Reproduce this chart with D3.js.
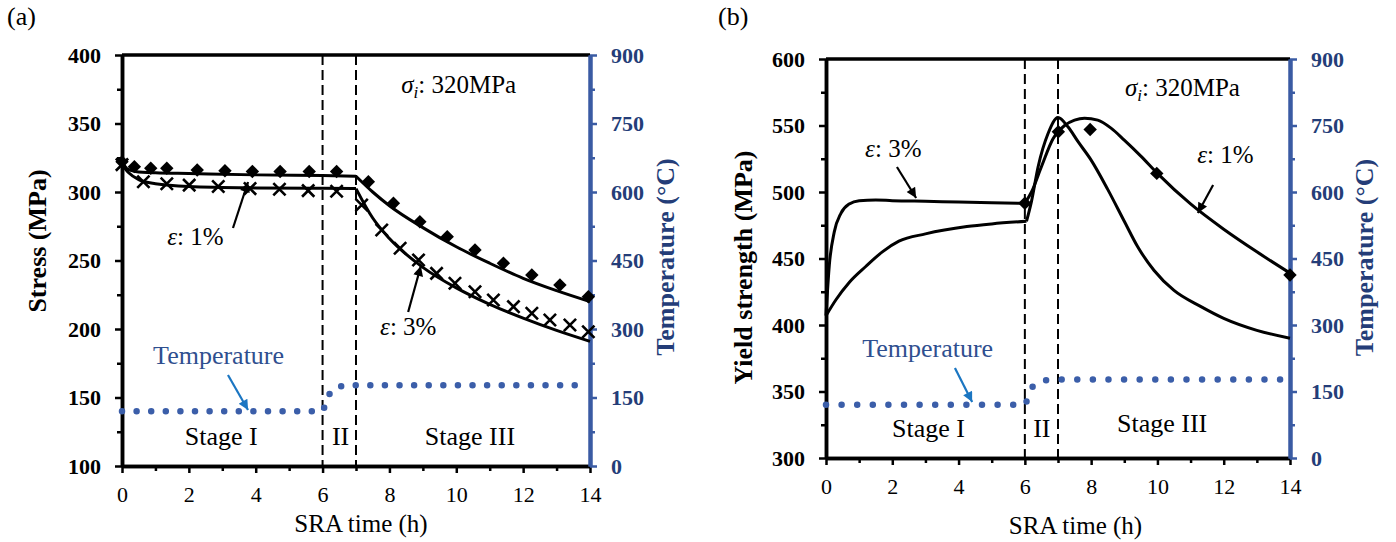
<!DOCTYPE html>
<html>
<head>
<meta charset="utf-8">
<script src="https://cdn.jsdelivr.net/npm/d3@7"></script>
<style>
  body { margin: 0; background: #fff; }
  text { font-family: "Liberation Serif", "Times New Roman", serif; }
</style>
</head>
<body>
<svg id="chart" width="1396" height="542"></svg>
<script>
///////////////    Data    ////////////////

// shared axis ticks
const timeTicks = [0, 2, 4, 6, 8, 10, 12, 14];
const timeMinor = [1, 3, 5, 7, 9, 11, 13];
const tempTicks = [0, 150, 300, 450, 600, 750, 900];
const tempMinor = [75, 225, 375, 525, 675, 825];
const stageBounds = [6, 7];

// temperature history (same for both panels)
const tempTime = [0, 6, 6.04, 6.17, 6.37, 6.72, 7.1, 13.8];
const tempValue = [120, 120, 126, 152, 170, 176, 177, 177];

// (a) stress relaxation
const stressTicks = [100, 150, 200, 250, 300, 350, 400];
const stressMinor = [125, 175, 225, 275, 325, 375];

// fitted curves
const fit1Time = [0, 0.15, 0.4, 1, 2, 4, 6, 7, 7.5, 8, 9, 10, 11, 12, 13, 14];
const fit1Stress = [322, 317, 315, 314, 313.5, 312.5, 312, 311.5, 300, 290, 274, 260, 248, 237, 228, 220];
const fit3Time = [0, 0.2, 0.5, 1, 2, 4, 6, 7, 7.5, 8, 9, 10, 11, 12, 13, 14];
const fit3Stress = [320, 314, 309, 306, 304, 303, 302.7, 302.5, 281, 266, 245, 230, 218, 208, 199, 191];

// measured points
const exp1Time = [0, 0.37, 0.86, 1.34, 2.25, 3.08, 3.9, 4.73, 5.6, 6.42, 7.37, 8.12, 8.91, 9.73, 10.56, 11.41, 12.26, 13.1, 13.95];
const exp1Stress = [322, 318.5, 317.3, 317.3, 316, 315.5, 315, 315, 315, 315, 307.5, 291.8, 278.3, 267.4, 257.7, 248, 239.4, 232.1, 223.6];
const exp3Time = [0, 0.64, 1.34, 2.01, 2.88, 3.83, 4.71, 5.57, 6.42, 7.17, 7.77, 8.32, 8.87, 9.41, 9.96, 10.56, 11.11, 11.71, 12.26, 12.8, 13.4, 13.95];
const exp3Stress = [320, 307.5, 306, 305, 304, 302.5, 302, 301, 300.5, 290.5, 272.3, 258.9, 250.4, 240.6, 233.4, 227.2, 221.2, 216.3, 211.5, 206.6, 202.9, 198];

// (b) yield strength
const yieldTicks = [300, 350, 400, 450, 500, 550, 600];
const yieldMinor = [325, 375, 425, 475, 525, 575];

const ysUpperTime = [0, 0.1, 0.25, 0.45, 0.7, 1, 1.5, 2, 3, 4, 5, 6, 6.2, 6.5, 6.85, 7.2, 7.5, 7.8, 8.2, 8.6, 9, 9.5, 10, 11, 12, 13, 14];
const ysUpper = [407, 445, 470, 484, 491, 493.5, 494, 493.5, 493, 492.5, 492, 491.5, 500, 519, 540, 550, 554, 555.5, 554, 548, 539, 527, 514, 491, 472, 455, 439];
const ysLowerTime = [0, 0.3, 0.7, 1.2, 1.7, 2.2, 3, 4.25, 5, 6.05, 6.2, 6.4, 6.7, 7, 7.3, 7.6, 8, 8.5, 9, 9.4, 9.9, 10.5, 11.3, 12, 13, 14];
const ysLower = [407, 419, 432, 444, 455, 463, 468.5, 474, 476, 478, 493, 519, 544, 556, 549, 538, 524, 502, 478, 459, 441, 426, 414, 405, 396, 390];

const ysExpTime = [6, 7.01, 7.97, 9.98, 14];
const ysExp = [491.5, 545.3, 547, 514, 437.6];

///////////////    Drawing    ////////////////

const svg = d3.select("#chart");
const navy = "#243d78";
const axisBlue = "#3a5ba3";
const dotBlue = "#3b5ea9";
const arrowBlue = "#1b76c2";

const defs = svg.append("defs");
function arrowMarker(id, color) {
  defs.append("marker")
    .attr("id", id)
    .attr("viewBox", "0 0 10 10")
    .attr("refX", 10)
    .attr("refY", 5)
    .attr("markerUnits", "userSpaceOnUse")
    .attr("markerWidth", 13)
    .attr("markerHeight", 10)
    .attr("orient", "auto")
    .append("path")
    .attr("d", "M0,0 L10,5 L0,10 z")
    .attr("fill", color);
}
arrowMarker("arrowBlack", "#000");
arrowMarker("arrowBlue", arrowBlue);

function styleAxis(sel, color, width) {
  sel.select(".domain").attr("stroke", color).attr("stroke-width", width);
  sel.selectAll(".tick line").attr("stroke", color).attr("stroke-width", 2.5);
}

function drawPanel(p) {
  const g = svg.append("g");
  const x = d3.scaleLinear().domain([0, 14]).range([p.left, p.right]);
  const y = d3.scaleLinear().domain(p.yDomain).range([p.bottom, p.top]);
  const yT = d3.scaleLinear().domain([0, 900]).range([p.bottom, p.top]);

  // stage boundaries
  g.selectAll(".stage")
    .data(stageBounds)
    .enter()
    .append("line")
    .attr("x1", (d) => x(d))
    .attr("x2", (d) => x(d))
    .attr("y1", p.top)
    .attr("y2", p.bottom)
    .attr("stroke", "#000")
    .attr("stroke-width", 2)
    .attr("stroke-dasharray", "10,5");

  // top frame
  g.append("line")
    .attr("x1", p.left).attr("x2", p.right)
    .attr("y1", p.top).attr("y2", p.top)
    .attr("stroke", "#000").attr("stroke-width", 3.5);

  // x axis
  const xMinor = g.append("g").attr("transform", `translate(0,${p.bottom})`)
    .call(d3.axisBottom(x).tickValues(timeMinor).tickSize(5).tickSizeOuter(0).tickFormat(""));
  styleAxis(xMinor, "#000", 3.5);
  const xAxis = g.append("g").attr("transform", `translate(0,${p.bottom})`)
    .call(d3.axisBottom(x).tickValues(timeTicks).tickSize(7).tickSizeOuter(0).tickPadding(13));
  styleAxis(xAxis, "#000", 3.5);
  xAxis.selectAll("text").attr("font-size", 22).attr("fill", "#000");

  // left axis
  const yMinor = g.append("g").attr("transform", `translate(${p.left},0)`)
    .call(d3.axisLeft(y).tickValues(p.yMinor).tickSize(5).tickSizeOuter(0).tickFormat(""));
  styleAxis(yMinor, "#000", 3.5);
  const yAxis = g.append("g").attr("transform", `translate(${p.left},0)`)
    .call(d3.axisLeft(y).tickValues(p.yTicks).tickSize(7).tickSizeOuter(0).tickPadding(14));
  styleAxis(yAxis, "#000", 3.5);
  yAxis.selectAll("text").attr("font-size", 22).attr("font-weight", "bold").attr("fill", "#000");

  // right temperature axis
  const tMinor = g.append("g").attr("transform", `translate(${p.right},0)`)
    .call(d3.axisRight(yT).tickValues(tempMinor).tickSize(5).tickSizeOuter(0).tickFormat(""));
  styleAxis(tMinor, axisBlue, 4);
  const tAxis = g.append("g").attr("transform", `translate(${p.right},0)`)
    .call(d3.axisRight(yT).tickValues(tempTicks).tickSize(7).tickSizeOuter(0).tickPadding(14));
  styleAxis(tAxis, axisBlue, 4);
  tAxis.selectAll("text").attr("font-size", 22).attr("font-weight", "bold").attr("fill", navy);

  // temperature dotted line
  const tempLine = d3.line()
    .x((d) => x(d[0]))
    .y((d) => yT(d[1]))
    .curve(d3.curveMonotoneX);
  g.append("path")
    .attr("d", tempLine(d3.zip(tempTime, tempValue)))
    .attr("fill", "none")
    .attr("stroke", dotBlue)
    .attr("stroke-width", 6.5)
    .attr("stroke-linecap", "round")
    .attr("stroke-dasharray", `0,${p.dotGap}`);

  // fitted curves, split where the slope breaks
  const line = d3.line()
    .x((d) => x(d[0]))
    .y((d) => y(d[1]))
    .curve(d3.curveMonotoneX);
  p.curves.forEach((c) => {
    const pts = d3.zip(c.time, c.value);
    let start = 0;
    c.breaks.concat([Infinity]).forEach((b) => {
      const seg = pts.filter((d) => d[0] >= start && d[0] <= b);
      g.append("path")
        .attr("d", line(seg))
        .attr("fill", "none")
        .attr("stroke", "#000")
        .attr("stroke-width", 3);
      start = b;
    });
  });

  // measured markers
  p.markers.forEach((m) => {
    const pts = d3.zip(m.time, m.value);
    if (m.type === "diamond") {
      g.selectAll(null)
        .data(pts)
        .enter()
        .append("path")
        .attr("d", d3.symbol(d3.symbolSquare, 90)())
        .attr("transform", (d) => `translate(${x(d[0])},${y(d[1])}) rotate(45)`)
        .attr("fill", "#000");
    } else {
      g.selectAll(null)
        .data(pts)
        .enter()
        .append("path")
        .attr("d", d3.symbol(d3.symbolTimes, 100)())
        .attr("transform", (d) => `translate(${x(d[0])},${y(d[1])})`)
        .attr("fill", "none")
        .attr("stroke", "#000")
        .attr("stroke-width", 2.6);
    }
  });

  // annotations
  const sigma = g.append("text")
    .attr("x", x(p.sigmaAt[0])).attr("y", y(p.sigmaAt[1]))
    .attr("font-size", 25).attr("fill", "#000");
  sigma.append("tspan").attr("font-style", "italic").text("σ");
  sigma.append("tspan").attr("font-style", "italic").attr("font-size", 17).attr("dy", 5).text("i");
  sigma.append("tspan").attr("dy", -5).text(": 320MPa");

  p.epsLabels.forEach((e) => {
    const t = g.append("text")
      .attr("x", x(e.at[0])).attr("y", y(e.at[1]))
      .attr("font-size", 25).attr("fill", "#000");
    t.append("tspan").attr("font-style", "italic").text("ε");
    t.append("tspan").text(": " + e.text);
    g.append("line")
      .attr("x1", x(e.from[0])).attr("y1", y(e.from[1]))
      .attr("x2", x(e.to[0])).attr("y2", y(e.to[1]))
      .attr("stroke", "#000").attr("stroke-width", 2.2)
      .attr("marker-end", "url(#arrowBlack)");
  });

  g.append("text")
    .attr("x", x(p.tempLabel.at[0])).attr("y", y(p.tempLabel.at[1]))
    .attr("font-size", 26).attr("fill", "#2f4f8f")
    .text("Temperature");
  g.append("line")
    .attr("x1", x(p.tempLabel.from[0])).attr("y1", y(p.tempLabel.from[1]))
    .attr("x2", x(p.tempLabel.to[0])).attr("y2", y(p.tempLabel.to[1]))
    .attr("stroke", arrowBlue).attr("stroke-width", 2.2)
    .attr("marker-end", "url(#arrowBlue)");

  p.stages.forEach((s) => {
    g.append("text")
      .attr("x", x(s.at[0])).attr("y", y(s.at[1]))
      .attr("font-size", 26).attr("fill", "#000")
      .text(s.text);
  });

  // axis titles
  g.append("text")
    .attr("transform", `translate(${p.yTitleX},${p.yTitleY}) rotate(-90)`)
    .attr("text-anchor", "middle")
    .attr("font-size", 26).attr("font-weight", "bold").attr("fill", "#000")
    .text(p.yTitle);
  g.append("text")
    .attr("transform", `translate(${p.tTitleX},${p.tTitleY}) rotate(-90)`)
    .attr("text-anchor", "middle")
    .attr("font-size", 26).attr("font-weight", "bold").attr("fill", navy)
    .text("Temperature (°C)");
  g.append("text")
    .attr("x", p.xTitleX).attr("y", p.xTitleY)
    .attr("text-anchor", "middle")
    .attr("font-size", 25).attr("fill", "#000")
    .text("SRA time (h)");

  g.append("text")
    .attr("x", p.tagX).attr("y", 25)
    .attr("font-size", 26).attr("fill", "#000")
    .text(p.tag);
}

drawPanel({
  tag: "(a)", tagX: 7,
  left: 122, right: 590, top: 55, bottom: 466,
  yDomain: [100, 400], yTicks: stressTicks, yMinor: stressMinor,
  dotGap: 14.6,
  curves: [
    { time: fit1Time, value: fit1Stress, breaks: [7] },
    { time: fit3Time, value: fit3Stress, breaks: [7] },
  ],
  markers: [
    { type: "diamond", time: exp1Time, value: exp1Stress },
    { type: "cross", time: exp3Time, value: exp3Stress },
  ],
  sigmaAt: [8.35, 372.3],
  epsLabels: [
    { text: "1%", at: [1.35, 261.3], from: [3.32, 273.7], to: [3.77, 307.3] },
    { text: "3%", at: [7.72, 195.6], from: [8.56, 212.4], to: [8.94, 246] },
  ],
  tempLabel: { at: [0.93, 174.5], from: [3.17, 166.4], to: [3.77, 140.9] },
  stages: [
    { text: "Stage I", at: [1.88, 115.3] },
    { text: "II", at: [6.28, 115.3] },
    { text: "Stage III", at: [9.06, 115.3] },
  ],
  yTitle: "Stress (MPa)", yTitleX: 46, yTitleY: 241,
  tTitleX: 674, tTitleY: 257,
  xTitleX: 361, xTitleY: 532,
});

drawPanel({
  tag: "(b)", tagX: 718,
  left: 826, right: 1290, top: 59, bottom: 458,
  yDomain: [300, 600], yTicks: yieldTicks, yMinor: yieldMinor,
  dotGap: 15.6,
  curves: [
    { time: ysUpperTime, value: ysUpper, breaks: [6] },
    { time: ysLowerTime, value: ysLower, breaks: [6.05] },
  ],
  markers: [
    { type: "diamond", time: ysExpTime, value: ysExp },
  ],
  sigmaAt: [9.02, 572.2],
  epsLabels: [
    { text: "3%", at: [1.18, 526.3], from: [2.14, 518.8], to: [2.72, 495.5] },
    { text: "1%", at: [11.2, 521.8], from: [11.68, 505.3], to: [11.22, 484.2] },
  ],
  tempLabel: { at: [1.09, 375.9], from: [3.89, 367.7], to: [4.41, 342.1] },
  stages: [
    { text: "Stage I", at: [1.99, 315.8] },
    { text: "II", at: [6.25, 315.8] },
    { text: "Stage III", at: [8.78, 319.5] },
  ],
  yTitle: "Yield strength (MPa)", yTitleX: 752, yTitleY: 267.5,
  tTitleX: 1373, tTitleY: 257.5,
  xTitleX: 1075.5, xTitleY: 534,
});
</script>
</body>
</html>
